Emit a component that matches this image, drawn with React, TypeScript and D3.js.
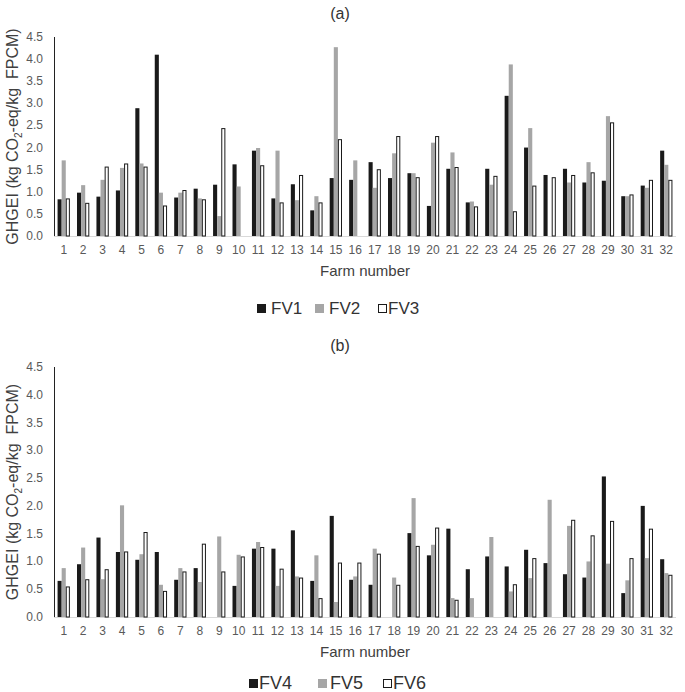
import React from "react";
import * as d3 from "d3";

const farms = ["1","2","3","4","5","6","7","8","9","10","11","12","13","14","15","16","17","18","19","20","21","22","23","24","25","26","27","28","29","30","31","32"];
const yTicks = [0, 0.5, 1.0, 1.5, 2.0, 2.5, 3.0, 3.5, 4.0, 4.5];

const fv1 = [0.83,0.98,0.89,1.03,2.89,4.10,0.87,1.07,1.16,1.62,1.93,0.85,1.17,0.58,1.31,1.27,1.67,1.31,1.42,0.68,1.52,0.76,1.52,3.17,2.00,1.38,1.52,1.21,1.25,0.90,1.14,1.93];
const fv2 = [1.71,1.15,1.27,1.54,1.64,0.98,0.98,0.85,0.45,1.12,1.99,1.93,0.81,0.90,4.27,1.71,1.09,1.87,1.42,2.11,1.89,0.78,1.16,3.88,2.44,0,1.21,1.67,2.71,0.90,1.09,1.61];
const fv3 = [0.85,0.75,1.57,1.64,1.57,0.69,1.04,0.83,2.44,0,1.60,0.76,1.38,0.76,2.19,0,1.51,2.26,1.33,2.26,1.56,0.67,1.36,0.56,1.14,1.33,1.38,1.44,2.57,0.94,1.27,1.27];

const fv4 = [0.65,0.95,1.43,1.17,1.03,1.17,0.67,0.88,0,0.56,1.23,1.23,1.56,0.65,1.82,0.67,0.58,0,1.51,1.11,1.59,0.86,1.09,0.91,1.21,0.97,0.77,0.71,2.53,0.43,2.00,1.04];
const fv5 = [0.88,1.25,0.68,2.01,1.13,0.58,0.88,0.63,1.45,1.12,1.35,0.56,0.73,1.11,0.27,0.73,1.23,0.71,2.14,1.30,0.34,0.34,1.44,0.46,0.70,2.11,1.64,1.00,0.96,0.66,1.06,0.79];
const fv6 = [0.55,0.68,0.86,1.18,1.53,0.47,0.82,1.32,0.82,1.09,1.26,0.87,0.71,0.34,0.98,0.98,1.14,0.58,1.28,1.61,0.31,0,0,0.59,1.06,0,1.75,1.47,1.73,1.06,1.59,0.76];

const seriesA = ["FV1", "FV2", "FV3"];
const seriesB = ["FV4", "FV5", "FV6"];

const FONT = "'Liberation Sans', Arial, sans-serif";
const fills = ["#1a1a1a", "#a6a6a6", "#ffffff"];
const strokes = ["none", "none", "#1a1a1a"];

type PanelProps = {
  title: string;
  titleY: number;
  top: number;
  bottom: number;
  data: number[][];
  names: string[];
  tickY: number;
  xTitleY: number;
  legendY: number;
  legendX: number[];
  legendTextDx: number[];
  legendFont: number;
};

function Panel(p: PanelProps) {
  const left = 54;
  const right = 676;
  const x = d3.scaleBand<string>().domain(farms).range([left, right]).paddingInner(0).paddingOuter(0);
  const y = d3.scaleLinear().domain([0, 4.5]).range([p.bottom, p.top]);
  const bw = 4.1;
  const groupW = bw * 3;
  const midY = (p.top + p.bottom) / 2;
  return (
    <g>
      <text x={340} y={p.titleY} textAnchor="middle" fontSize={16} fill="#333" fontFamily={FONT}>{p.title}</text>
      {yTicks.map((t) => (
        <text key={t} x={43} y={y(t) + 4} textAnchor="end" fontSize={12} fill="#595959" fontFamily={FONT}>{d3.format(".1f")(t)}</text>
      ))}
      <line x1={left} x2={right} y1={p.bottom + 0.5} y2={p.bottom + 0.5} stroke="#d9d9d9" strokeWidth={1} />
      {p.data.map((series, si) =>
        series.map((v, i) => {
          if (!v) return null;
          const bx = (x(farms[i]) as number) + (x.bandwidth() - groupW) / 2 + si * bw;
          const isWhite = si === 2;
          return (
            <rect
              key={si + "-" + i}
              x={isWhite ? bx + 0.5 : bx}
              y={y(v) + (isWhite ? 0.5 : 0)}
              width={isWhite ? bw - 1 : bw}
              height={p.bottom - y(v) - (isWhite ? 0.5 : 0)}
              fill={fills[si]}
              stroke={strokes[si]}
              strokeWidth={1}
            />
          );
        })
      )}
      <line x1={left + 0.5} x2={left + 0.5} y1={p.top} y2={p.bottom} stroke="#222" strokeWidth={1} />
      {farms.map((f) => (
        <text key={f} x={(x(f) as number) + x.bandwidth() / 2} y={p.tickY} textAnchor="middle" fontSize={12} fill="#595959" fontFamily={FONT}>{f}</text>
      ))}
      <text x={365} y={p.xTitleY} textAnchor="middle" fontSize={15} fill="#404040" fontFamily={FONT}>Farm number</text>
      <text
        transform={`translate(18, ${midY}) rotate(-90)`}
        textAnchor="middle"
        fontSize={16}
        fill="#404040"
        fontFamily={FONT}
        style={{ whiteSpace: "pre" }}
      >
        GHGEI (kg CO<tspan fontSize={10} dy={4}>2</tspan><tspan dy={-4}>-eq/kg  FPCM)</tspan>
      </text>
      {p.names.map((n, i) => (
        <g key={n}>
          <rect
            x={p.legendX[i] + (i === 2 ? 0.5 : 0)}
            y={p.legendY - 4 + (i === 2 ? 0.5 : 0)}
            width={i === 2 ? 8 : 9}
            height={i === 2 ? 8 : 9}
            fill={fills[i]}
            stroke={strokes[i]}
            strokeWidth={1}
          />
          <text x={p.legendX[i] + p.legendTextDx[i]} y={p.legendY + 6} fontSize={p.legendFont} fill="#333" fontFamily={FONT}>{n}</text>
        </g>
      ))}
    </g>
  );
}

export default function App() {
  return (
    <svg width={685} height={692} style={{ position: "absolute", left: 0, top: 0, background: "#fff" }}>
      <rect width={685} height={692} fill="#fff" />
      <Panel
        title="(a)"
        titleY={19}
        top={37}
        bottom={236}
        data={[fv1, fv2, fv3]}
        names={seriesA}
        tickY={254}
        xTitleY={276}
        legendY={308}
        legendX={[257, 315, 378]}
        legendTextDx={[14, 14, 10]}
        legendFont={17}
      />
      <Panel
        title="(b)"
        titleY={351}
        top={367}
        bottom={617}
        data={[fv4, fv5, fv6]}
        names={seriesB}
        tickY={635}
        xTitleY={657}
        legendY={683}
        legendX={[249, 318, 383]}
        legendTextDx={[10, 12, 10]}
        legendFont={18}
      />
    </svg>
  );
}
